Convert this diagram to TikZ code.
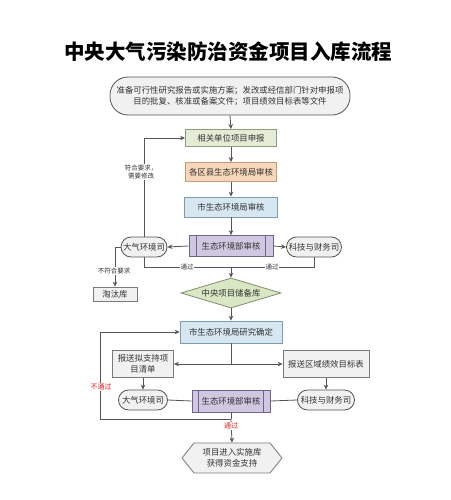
\documentclass[tikz,border=0pt]{standalone}
\usepackage{fontspec}
\setmainfont{Noto Sans CJK SC}
\usetikzlibrary{shapes.geometric,shapes.misc,arrows.meta,calc}
\definecolor{tx}{HTML}{333333}
\definecolor{ln}{HTML}{555555}
\definecolor{gfill}{HTML}{E4ECD6}
\definecolor{gbord}{HTML}{8E9C7E}
\definecolor{ofill}{HTML}{F8D6BA}
\definecolor{obord}{HTML}{C49A7A}
\definecolor{bfill}{HTML}{D6E7F1}
\definecolor{bbord}{HTML}{7F9CAC}
\definecolor{pfill}{HTML}{CFC8E0}
\definecolor{pbord}{HTML}{6E6390}
\definecolor{dfill}{HTML}{DAE7C4}
\definecolor{dbord}{HTML}{7E8E6C}
\definecolor{grfill}{HTML}{F1F1F1}
\definecolor{grbord}{HTML}{7A7A7A}
\definecolor{redt}{HTML}{E02020}
\tikzset{
  base/.style={inner sep=0pt, align=center, text=tx, font=\fontsize{8.4}{10.5}\selectfont, line width=0.8pt},
  boxg/.style={base, draw=gbord, fill=gfill, rectangle},
  boxo/.style={base, draw=obord, fill=ofill, rectangle},
  boxb/.style={base, draw=bbord, fill=bfill, rectangle},
  boxp/.style={base, draw=pbord, fill=pfill, rectangle},
  boxgr/.style={base, draw=grbord, fill=grfill, rectangle},
  stad/.style={base, draw=ln, fill=grfill, rounded rectangle},
  dia/.style={base, draw=dbord, fill=dfill, diamond, aspect=3.3},
  arr/.style={draw=ln, line width=0.8pt, -{Stealth[length=5pt,width=4.5pt]}},
  con/.style={draw=ln, line width=0.8pt},
  lab/.style={fill=white, inner sep=0.5pt, text=tx, align=center, font=\fontsize{6.5}{8}\selectfont},
  labr/.style={fill=white, inner sep=0.5pt, text=redt, align=center, font=\fontsize{7}{8}\selectfont},
}
\begin{document}
\begin{tikzpicture}[x=1pt,y=-1pt]
\useasboundingbox (0,0) rectangle (450,500);
\fill[white] (0,0) rectangle (450,500);
% title
\node[text=black, font=\fontsize{20.5}{23}\selectfont\bfseries] (title) at (228,52) {中央大气污染防治资金项目入库流程};
% top rounded box
\node[base, draw=ln, fill=grfill, rounded corners=18pt, minimum width=240pt, minimum height=38pt] (top) at (230,96)
  {准备可行性研究报告或实施方案；发改或经信部门针对申报项\\目的批复、核准或备案文件；项目绩效目标表等文件};
\node[boxg, minimum width=91pt, minimum height=17pt] (n1) at (231,138) {相关单位项目申报};
\node[boxo, minimum width=91pt, minimum height=19pt] (n2) at (231,172) {各区县生态环境局审核};
\node[boxb, minimum width=93pt, minimum height=20pt] (n3) at (231,207) {市生态环境局审核};
\node[boxp, minimum width=84pt, minimum height=21pt] (n4) at (231,246) {生态环境部审核};
\draw[pbord, line width=0.8pt] ($(n4.north west)+(8,0)$) -- ($(n4.south west)+(8,0)$);
\draw[pbord, line width=0.8pt] ($(n4.north east)+(-8,0)$) -- ($(n4.south east)+(-8,0)$);
\node[stad, minimum width=46pt, minimum height=20pt] (dq1) at (144,247) {大气环境司};
\node[stad, minimum width=55pt, minimum height=20pt] (kj1) at (314,247) {科技与财务司};
\node[boxgr, minimum width=44pt, minimum height=14pt] (tt) at (115,294) {淘汰库};
\node[dia, minimum width=100pt, minimum height=30pt] (dq) at (231,293) {中央项目储备库};
\node[boxb, minimum width=102pt, minimum height=22pt] (n5) at (231,332) {市生态环境局研究确定};
\node[boxgr, minimum width=61pt, minimum height=27pt] (bs1) at (143,364) {报送拟支持项\\目清单};
\node[boxgr, minimum width=86pt, minimum height=27pt] (bs2) at (326,364) {报送区域绩效目标表};
\node[stad, minimum width=49pt, minimum height=20pt] (dq2) at (143,400) {大气环境司};
\node[boxp, minimum width=78pt, minimum height=22pt] (n6) at (231,401) {生态环境部审核};
\draw[pbord, line width=0.8pt] ($(n6.north west)+(7,0)$) -- ($(n6.south west)+(7,0)$);
\draw[pbord, line width=0.8pt] ($(n6.north east)+(-7,0)$) -- ($(n6.south east)+(-7,0)$);
\node[stad, minimum width=57pt, minimum height=20pt] (kj2) at (326,400) {科技与财务司};
% hexagon
\coordinate (hx) at (232,458);
\draw[grbord, line width=0.8pt, fill=grfill] ($(hx)+(-50,0)$) -- ($(hx)+(-38,-15)$) -- ($(hx)+(38,-15)$) -- ($(hx)+(50,0)$) -- ($(hx)+(38,15)$) -- ($(hx)+(-38,15)$) -- cycle;
\node[base, minimum width=100pt, minimum height=30pt] (hxt) at (hx) {项目进入实施库\\获得资金支持};
% coordinates
\coordinate (j1) at (231,267);
\coordinate (j2) at (231,364);
\coordinate (j3) at (231,419);
\coordinate (c1) at (100,419);
% connectors
\draw[arr] (top.south) -- (n1.north);
\draw[arr] (n1.south) -- (n2.north);
\draw[arr] (n2.south) -- (n3.north);
\draw[arr] (n3.south) -- (n4.north);
\draw[arr] (n4.west) -- (dq1.east);
\draw[arr] (n4.east) -- (kj1.west);
\draw[arr] (dq1.north) |- (n1.west);
\draw[con] (dq1.south) |- (j1);
\draw[con] (kj1.south) |- (j1);
\draw[arr] (j1) -- (dq.north);
\draw[arr] (dq1.west) -| (tt.north);
\draw[arr] (dq.south) -- (n5.north);
\draw[con] (n5.south) -- (j2);
\draw[arr] (j2) -- (bs1.east);
\draw[arr] (j2) -- (bs2.west);
\draw[arr] (bs1.south) -- (dq2.north);
\draw[arr] (bs2.south) -- (kj2.north);
\draw[con] (dq2.east) -- (n6.west);
\draw[con] (n6.east) -- (kj2.west);
\draw[con] (n6.south) -- (j3);
\draw[arr] (j3) -- (c1) |- (n5.west);
\draw[arr] (j3) -- (hxt.north);
% labels
\node[lab] (l1) at (141,172) {符合要求，\\需要修改};
\node[lab] (l2) at (187,267) {通过};
\node[lab] (l3) at (272,267) {通过};
\node[lab] (l4) at (114,271) {不符合要求};
\node[labr] (l5) at (101,387) {不通过};
\node[labr] (l6) at (231,426) {通过};
\end{tikzpicture}
\end{document}
